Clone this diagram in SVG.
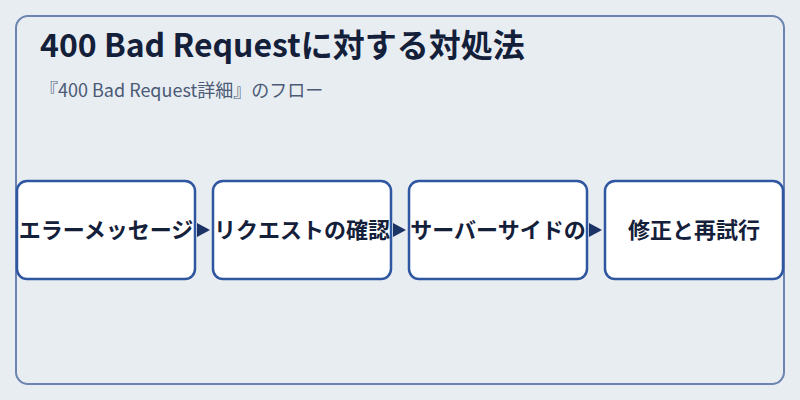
<svg xmlns="http://www.w3.org/2000/svg" width="800" height="400" viewBox="0 0 800 400">
  <defs>
    <style>
      .bg { fill: #e8edf2; }
      .frame { fill: #e8edf2; stroke: #6b84b2; stroke-width: 2; }
      .title { font-family: "Noto Sans CJK JP", "Noto Sans", sans-serif; font-weight: 700; font-size: 32px; fill: #14203a; }
      .subtitle { font-family: "Noto Sans CJK JP", "Noto Sans", sans-serif; font-size: 18px; fill: #4b5a75; }
      .node rect { fill: #ffffff; stroke: #2f56a0; stroke-width: 2.5; }
      .node text { font-family: "Noto Sans CJK JP", "Noto Sans", sans-serif; font-weight: 700; font-size: 22px; fill: #14203a; text-anchor: middle; }
      .arrow { fill: #1c3366; }
    </style>
  </defs>
  <rect class="bg" x="0" y="0" width="800" height="400"/>
  <rect class="frame" x="16" y="16" width="768" height="368" rx="12" ry="12"/>
  <text class="title" x="40" y="57">400 Bad Requestに対する対処法</text>
  <text class="subtitle" x="40" y="97">『400 Bad Request詳細』のフロー</text>

  <g id="connectors">
    <polygon class="arrow" points="197,223 210,230 197,237"/>
    <polygon class="arrow" points="393,223 406,230 393,237"/>
    <polygon class="arrow" points="589,223 602,230 589,237"/>
  </g>

  <g id="node1" class="node">
    <rect x="17" y="181" width="178" height="98" rx="10" ry="10"/>
    <text x="106" y="238">エラーメッセージ</text>
  </g>
  <g id="node2" class="node">
    <rect x="213" y="181" width="178" height="98" rx="10" ry="10"/>
    <text x="302" y="238">リクエストの確認</text>
  </g>
  <g id="node3" class="node">
    <rect x="409" y="181" width="178" height="98" rx="10" ry="10"/>
    <text x="498" y="238">サーバーサイドの</text>
  </g>
  <g id="node4" class="node">
    <rect x="605" y="181" width="178" height="98" rx="10" ry="10"/>
    <text x="694" y="238">修正と再試行</text>
  </g>
</svg>
